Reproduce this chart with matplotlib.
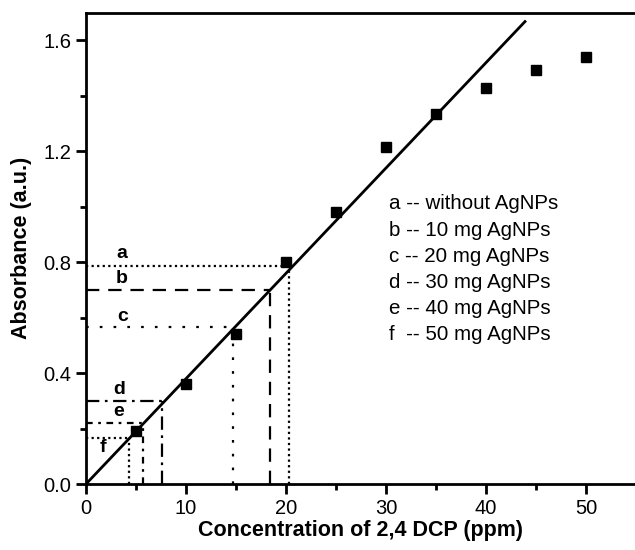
import matplotlib

matplotlib.use("Agg")
import matplotlib.pyplot as plt
from matplotlib.ticker import MultipleLocator

plt.rcParams["font.family"] = ["Liberation Sans", "DejaVu Sans"]

# measured absorbance vs 2,4-DCP concentration
conc = [5, 10, 15, 20, 25, 30, 35, 40, 45, 50]
absorb = [0.19, 0.36, 0.54, 0.80, 0.98, 1.215, 1.333, 1.427, 1.495, 1.542]

# linear calibration fit, drawn from origin
fit_x = [0, 43.9]
fit_y = [0, 1.668]

# read-off points for each AgNPs loading
ref_labels = ["a", "b", "c", "d", "e", "f"]
ref_x = [20.3, 18.4, 14.7, 7.6, 5.7, 4.3]
ref_y = [0.785, 0.699, 0.565, 0.300, 0.219, 0.167]
ref_styles = [
    (0, (1, 1.5)),
    (0, (6, 4)),
    (0, (1.2, 5)),
    (0, (6, 2.5, 1.2, 2.5)),
    (0, (3, 2.5, 1.2, 2.5)),
    (0, (1, 1.5)),
]
label_x = [3.6, 3.6, 3.7, 3.3, 3.3, 1.7]
label_y = [0.83, 0.74, 0.605, 0.34, 0.26, 0.13]

legend_lines = [
    "a -- without AgNPs",
    "b -- 10 mg AgNPs",
    "c -- 20 mg AgNPs",
    "d -- 30 mg AgNPs",
    "e -- 40 mg AgNPs",
    "f  -- 50 mg AgNPs",
]

fig = plt.figure(figsize=(6.35, 5.5), dpi=100)
ax = fig.add_axes([86 / 635, 66 / 550, 550 / 635, 471.3 / 550])

ax.plot(fit_x, fit_y, color="black", linewidth=2)
ax.plot(conc, absorb, "s", color="black", markersize=6.5, zorder=3)

for lab, x, y, ls, lx, ly in zip(ref_labels, ref_x, ref_y, ref_styles, label_x, label_y):
    ax.plot([0, x], [y, y], color="black", linewidth=1.6, linestyle=ls)
    ax.plot([x, x], [0, y], color="black", linewidth=1.6, linestyle=ls)
    ax.text(lx, ly, lab, fontsize=14, fontweight="bold", ha="center", va="center")

for i, line in enumerate(legend_lines):
    ax.text(30.3, 1.01 - i * 0.094, line, fontsize=14.8, ha="left", va="center")

ax.set_xlim(0, 55)
ax.set_ylim(0, 1.7)
ax.xaxis.set_major_locator(MultipleLocator(10))
ax.xaxis.set_minor_locator(MultipleLocator(5))
ax.yaxis.set_major_locator(MultipleLocator(0.4))
ax.yaxis.set_minor_locator(MultipleLocator(0.2))
ax.yaxis.set_major_formatter(matplotlib.ticker.FormatStrFormatter("%.1f"))
ax.tick_params(which="major", direction="out", length=7.5, width=2, labelsize=14.5, pad=3)
ax.tick_params(which="minor", direction="out", length=4, width=2)
for sp in ax.spines.values():
    sp.set_linewidth(2)

ax.set_xlabel("Concentration of 2,4 DCP (ppm)", fontsize=15.5, fontweight="bold", labelpad=2)
ax.set_ylabel("Absorbance (a.u.)", fontsize=15.5, fontweight="bold", labelpad=8)

fig.savefig("out.png", dpi=100)
